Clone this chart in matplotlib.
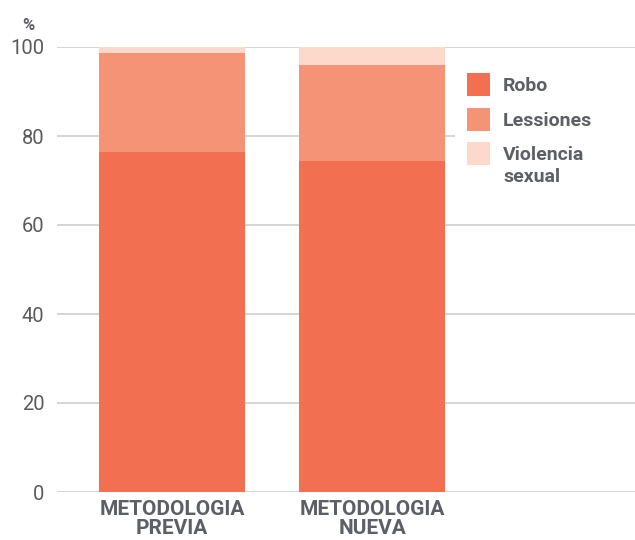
import numpy as np
import matplotlib
matplotlib.use('Agg')
import matplotlib.pyplot as plt
from matplotlib.patches import Rectangle
from matplotlib.transforms import Affine2D

# data
categories = ['METODOLOGIA\nPREVIA', 'METODOLOGIA\nNUEVA']
series_names = ['Robo', 'Lessiones', 'Violencia\nsexual']
robo = [76.4, 74.4]
lessiones = [22.3, 21.6]
violencia = [1.3, 4.0]

COLORS = ['#F26F51', '#F59376', '#FDD9CB']
TEXT_COLOR = '#5c5f66'
TICK_COLOR = '#5a5a5a'
GRID_COLOR = '#d2d2d2'

W, H = 635, 540

plt.rc('font', family=['Roboto', 'DejaVu Sans'])

fig = plt.figure(figsize=(W / 100, H / 100), dpi=100)
ax = fig.add_axes([57 / W, 48 / H, 578 / W, 445 / H])

ind = np.arange(len(categories))
width = 0.73

bottom = np.zeros(len(categories))
for vals, color in zip([robo, lessiones, violencia], COLORS):
    ax.bar(ind, vals, width, bottom=bottom, color=color, zorder=3)
    bottom += np.array(vals)

ax.set_xlim(-0.575, 2.315)
ax.set_ylim(0, 100)
ax.set_yticks([0, 20, 40, 60, 80, 100])
ax.yaxis.grid(True, color=GRID_COLOR, linewidth=1.3)
ax.set_axisbelow(True)
for s in ax.spines.values():
    s.set_visible(False)

ax.tick_params(axis='y', length=0, pad=9, labelsize=14.5, labelcolor=TICK_COLOR)
ax.set_xticks(ind)
ax.set_xticklabels(categories, fontsize=15, fontweight='bold', color=TEXT_COLOR,
                   linespacing=0.95)
ax.tick_params(axis='x', length=0, pad=6)

# pixel coordinates measured from the top-left corner
px = Affine2D().scale(1 / W, -1 / H).translate(0, 1) + fig.transFigure

fig.text(22, 30, '%', transform=px, fontsize=12, fontweight='bold', color=TEXT_COLOR)

# legend drawn by hand, white box hides the gridline behind it
fig.patches.append(Rectangle((455, 62), 180, 128, transform=px,
                             facecolor='white', edgecolor='none', zorder=4))
for i, (name, color) in enumerate(zip(series_names, COLORS)):
    top = 73 + i * 34.5
    fig.patches.append(Rectangle((467, top), 23, 23, transform=px,
                                 facecolor=color, edgecolor='none', zorder=5))
    for j, line in enumerate(name.split('\n')):
        fig.text(503, top + 18 + j * 22, line, transform=px, fontsize=14,
                 fontweight='bold', color=TEXT_COLOR, va='baseline', ha='left',
                 zorder=6)

fig.savefig('out.png', dpi=100)
